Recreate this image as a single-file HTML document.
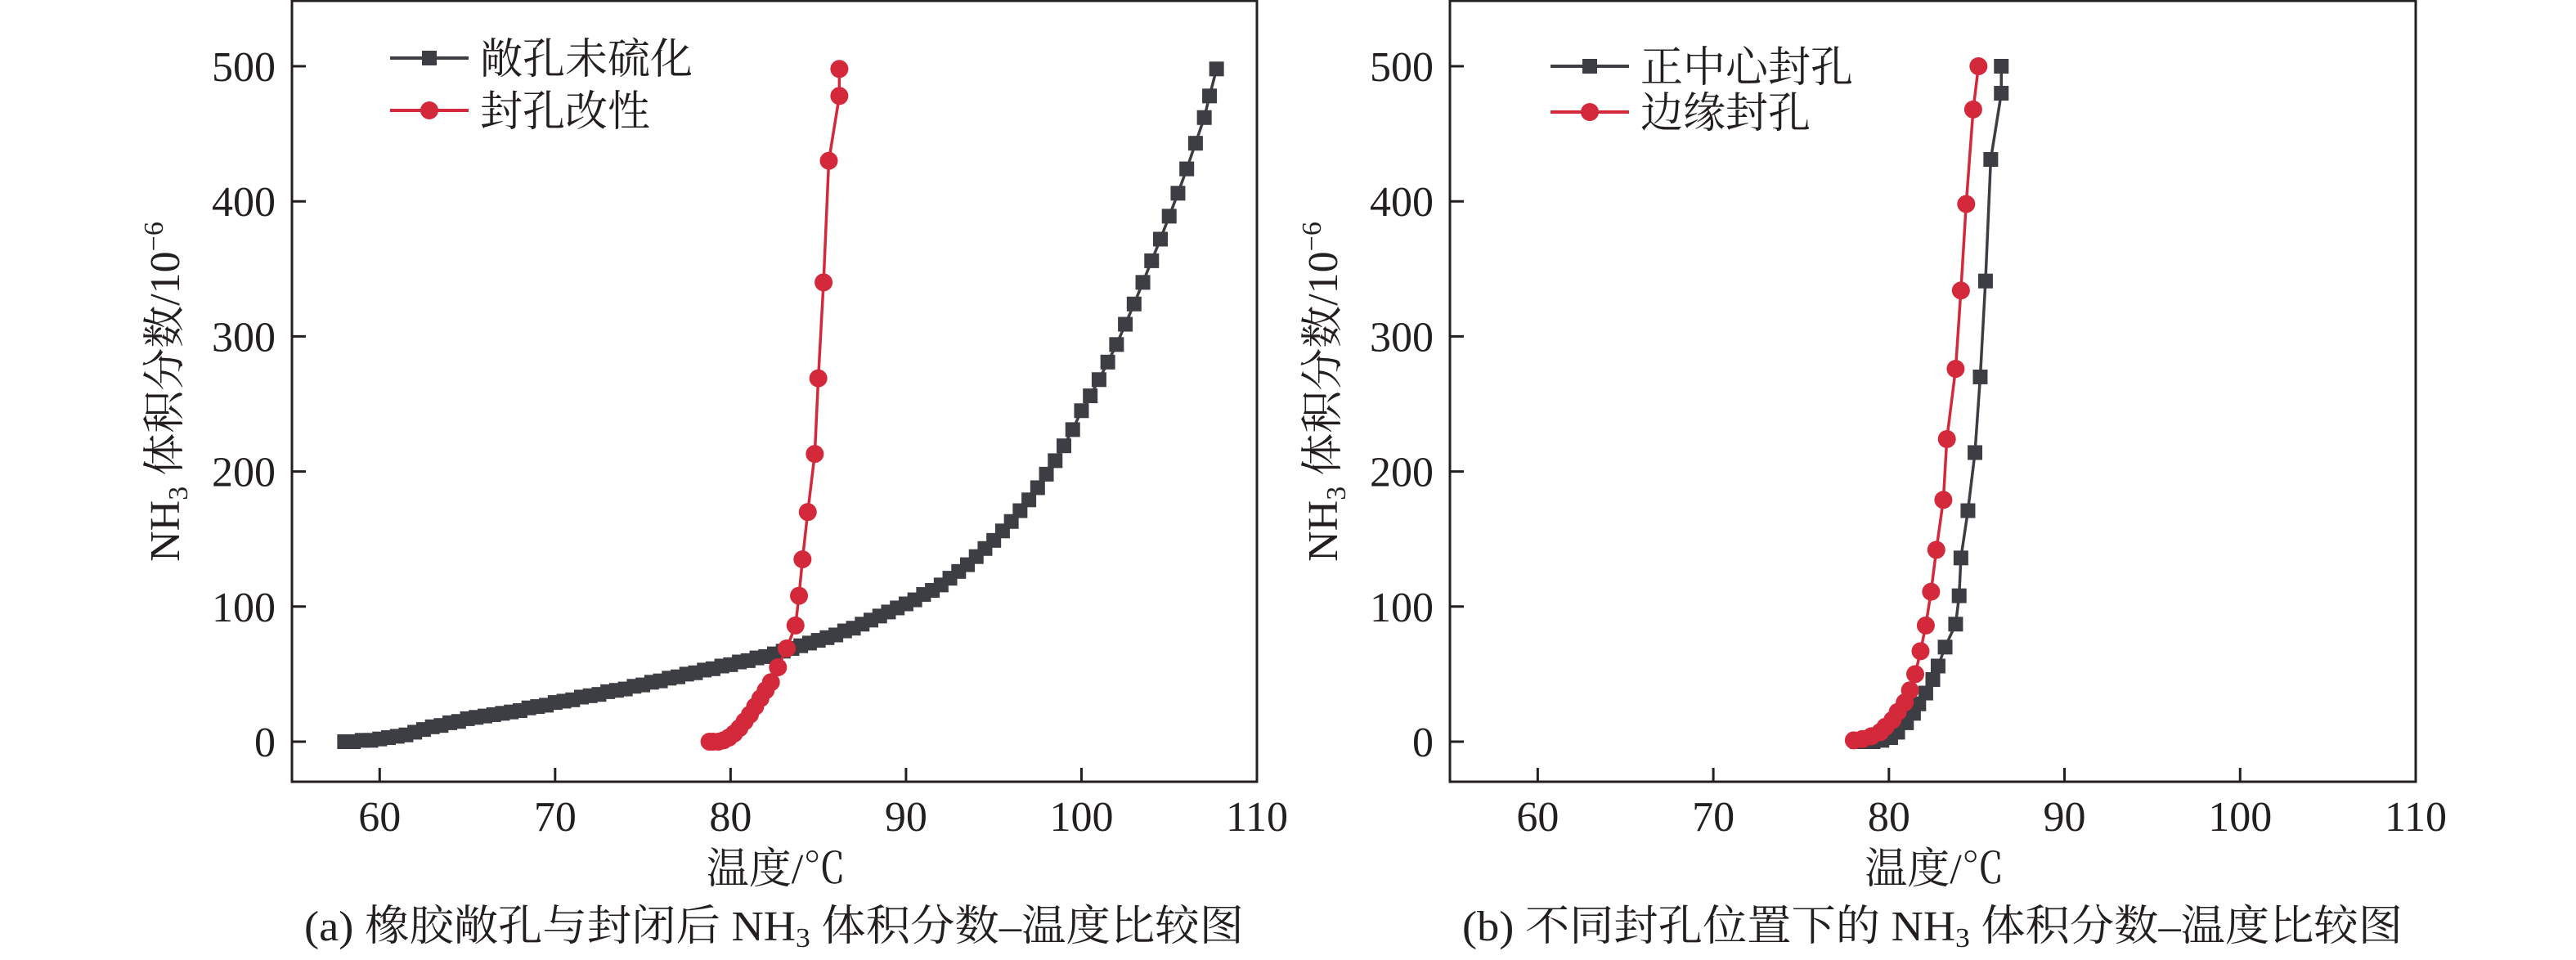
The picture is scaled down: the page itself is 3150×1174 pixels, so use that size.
<!DOCTYPE html>
<html><head><meta charset="utf-8"><style>
html,body{margin:0;padding:0;background:#fff}
svg text{font-family:"Liberation Serif","Noto Serif CJK SC",serif;fill:#231f20}
</style></head><body>
<svg id="chart" width="3150" height="1169" viewBox="0 0 3150 1169" xmlns="http://www.w3.org/2000/svg">
<g id="pa"></g>
<g id="pb"></g>
</svg>
<script>
const xTicks=[60,70,80,90,100,110];
const yTicks=[0,100,200,300,400,500];
// Panel a: open hole (unvulcanized)
const aDarkX=[58,58.5,59,59.5,60,60.5,61,61.5,62,62.5,63,63.5,64,64.5,65,65.5,66,66.5,67,67.5,68,68.5,69,69.5,70,70.5,71,71.5,72,72.5,73,73.5,74,74.5,75,75.5,76,76.5,77,77.5,78,78.5,79,79.5,80,80.5,81,81.5,82,82.5,83,83.5,84,84.5,85,85.5,86,86.5,87,87.5,88,88.5,89,89.5,90,90.5,91,91.5,92,92.5,93,93.5,94,94.5,95,95.5,96,96.5,97,97.5,98,98.5,99,99.5,100,100.5,101,101.5,102,102.5,103,103.5,104,104.5,105,105.5,106,106.5,107,107.3,107.7];
const aDarkY=[0,0,1,1,2,3,4,5,7,9,11,12,14,15,17,18,19,20,21,22,23,25,26,27,29,30,31,33,34,35,37,38,39,41,42,44,45,47,48,50,51,53,54,56,57,59,60,62,63,65,67,69,71,73,75,77,79,82,84,87,90,93,96,99,102,105,109,112,116,121,126,131,137,143,149,156,163,171,179,188,198,208,219,231,245,256,268,281,294,309,324,340,356,372,389,406,424,443,462,478,498];
// Panel a: sealed modified
const aRedX=[78.8,79.0,79.3,79.6,79.9,80.2,80.5,80.8,81.1,81.4,81.7,82.0,82.3,82.7,83.2,83.7,83.9,84.1,84.4,84.8,85.0,85.3,85.6,86.2,86.2];
const aRedY=[0,0,0,1,3,6,10,15,20,26,32,38,44,55,69,86,108,135,170,213,269,340,430,478,498];
// Panel b: center sealed
const bDarkX=[78.2,78.7,79.1,79.6,80.1,80.5,81.0,81.4,81.7,82.1,82.5,82.8,83.2,83.8,84.0,84.1,84.5,84.9,85.2,85.5,85.8,86.4,86.4];
const bDarkY=[0,0,0,1,3,7,14,21,28,36,46,56,70,87,108,136,171,214,270,341,431,480,500];
// Panel b: edge sealed
const bRedX=[78.0,78.5,79.0,79.5,79.8,80.2,80.5,80.9,81.2,81.5,81.8,82.1,82.4,82.7,83.1,83.3,83.8,84.1,84.4,84.8,85.1];
const bRedY=[1,2,4,7,11,16,22,29,38,50,67,86,111,142,179,224,276,334,398,468,500];

const NS='http://www.w3.org/2000/svg';
const DARK='#3c3e44', RED='#d3293b';
function el(parent,tag,attrs,text){const e=document.createElementNS(NS,tag);for(const k in attrs)e.setAttribute(k,attrs[k]);if(text!==undefined)e.textContent=text;parent.appendChild(e);return e;}

function panel(g,left,right,series,legend,caption,capL,capR,ylabX){
  const x0=55,x1=110,top=1,bottom=956;
  const xs=v=>left+(v-x0)/(x1-x0)*(right-left);
  const ys=v=>907-v*1.652;
  const frame=el(g,'rect',{x:left,y:top,width:right-left,height:bottom-top,fill:'none',stroke:'#231f20','stroke-width':3});
  
  
  xTicks.forEach(t=>{
    const l=el(g,'line',{x1:xs(t),x2:xs(t),y1:bottom,y2:bottom-17,stroke:'#231f20','stroke-width':3});
    
    
    const tx=el(g,'text',{x:xs(t),y:1016,'font-size':52,'text-anchor':'middle'},String(t));
    
    
  });
  yTicks.forEach(t=>{
    const l=el(g,'line',{x1:left,x2:left+17,y1:ys(t),y2:ys(t),stroke:'#231f20','stroke-width':3});
    
    
    const tx=el(g,'text',{x:left-20,y:ys(t)+18,'font-size':52,'text-anchor':'end'},String(t));
    
    
  });
  series.forEach(s=>{
    const pts=s.x.map((v,i)=>xs(v)+','+ys(s.y[i])).join(' ');
    const sg=el(g,'g',{});
    
    
    el(sg,'polyline',{points:pts,fill:'none',stroke:s.color,'stroke-width':3.5});
    s.x.forEach((v,i)=>{
      let m;
      if(s.shape==='sq') m=el(sg,'rect',{x:xs(v)-9,y:ys(s.y[i])-9,width:18,height:18,fill:s.color});
      else m=el(sg,'circle',{cx:xs(v),cy:ys(s.y[i]),r:11,fill:s.color});
      
      
    });
  });
  legend.items.forEach((it,i)=>{
    const y=legend.ys[i];
    const lg=el(g,'g',{});
    
    
    el(lg,'line',{x1:legend.x,x2:legend.x+96,y1:y,y2:y,stroke:it.color,'stroke-width':4});
    if(it.shape==='sq') el(lg,'rect',{x:legend.x+48-9,y:y-9,width:18,height:18,fill:it.color});
    else el(lg,'circle',{cx:legend.x+48,cy:y,r:11,fill:it.color});
    el(lg,'text',{x:legend.x+110,y:y+19,'font-size':52},it.label);
  });
  const xl=el(g,'text',{x:(left+right)/2+2,y:1080,'font-size':52,'text-anchor':'middle'},'温度/℃');
  
  
  const yl=el(g,'text',{transform:`translate(${ylabX+18},479) rotate(-90)`,'font-size':52,'text-anchor':'middle'});
  
  
  el(yl,'tspan',{},'NH');
  el(yl,'tspan',{'font-size':34,dy:10},'3');
  el(yl,'tspan',{dy:-10},' 体积分数/10');
  el(yl,'tspan',{'font-size':34,dy:-20},'−6');
  const cp=el(g,'text',{x:capL,y:1150,'font-size':52,textLength:capR-capL,lengthAdjust:'spacingAndGlyphs'});
  
  
  el(cp,'tspan',{},caption[0]);
  el(cp,'tspan',{'font-size':34,dy:8},'3');
  el(cp,'tspan',{dy:-8},caption[1]);
}
panel(document.getElementById('pa'),357,1537,
 [{name:'series-open-hole',x:aDarkX,y:aDarkY,color:DARK,shape:'sq'},{name:'series-sealed-modified',x:aRedX,y:aRedY,color:RED,shape:'ci'}],
 {x:477,ys:[71,135],items:[{label:'敞孔未硫化',color:DARK,shape:'sq'},{label:'封孔改性',color:RED,shape:'ci'}]},
 ['(a) 橡胶敞孔与封闭后 NH',' 体积分数–温度比较图'],372,1521,201);
panel(document.getElementById('pb'),1773,2954,
 [{name:'series-center-sealed',x:bDarkX,y:bDarkY,color:DARK,shape:'sq'},{name:'series-edge-sealed',x:bRedX,y:bRedY,color:RED,shape:'ci'}],
 {x:1896,ys:[81,137],items:[{label:'正中心封孔',color:DARK,shape:'sq'},{label:'边缘封孔',color:RED,shape:'ci'}]},
 ['(b) 不同封孔位置下的 NH',' 体积分数–温度比较图'],1788,2938,1617);
</script>
</body></html>
